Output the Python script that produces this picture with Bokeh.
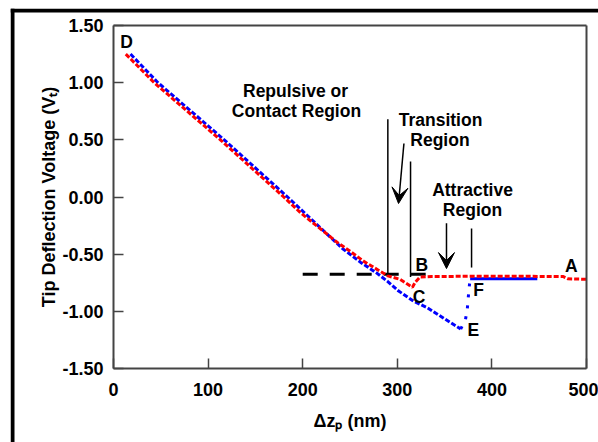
from bokeh.plotting import figure
from bokeh.models import (Range1d, FixedTicker, Arrow, VeeHead, NumeralTickFormatter,
                          LinearAxis, Span)
from bokeh.core.properties import value
from bokeh.embed import file_html
from bokeh.resources import INLINE

# ---- data ----
# approach curve (red): D -> C -> B -> A
approach_x = [13, 43, 113, 180, 198, 237, 251, 265, 280, 290, 303, 316, 319, 324, 336, 400, 475, 480, 500]
approach_y = [1.25, 1.00, 0.50, 0.0, -0.14, -0.40, -0.48, -0.565, -0.64, -0.69, -0.72, -0.79, -0.745,
              -0.70, -0.695, -0.693, -0.695, -0.715, -0.72]

# retract curve (blue): D -> E, snap-off E -> F, free F -> ...
retract_x = [18, 47, 117, 184, 242, 261, 279, 290, 301, 317, 332, 349, 367]
retract_y = [1.25, 1.00, 0.50, 0.0, -0.45, -0.57, -0.67, -0.74, -0.82, -0.91, -0.97, -1.06, -1.155]
snap_x = [367, 372, 374, 375, 376, 377]
snap_y = [-1.155, -1.075, -0.98, -0.88, -0.79, -0.715]
free_x = [377, 448]
free_y = [-0.715, -0.715]

# extrapolated free-cantilever level (dashed)
baseline_x = [200, 330]
baseline_y = [-0.675, -0.675]

x_ticks = [0, 100, 200, 300, 400, 500]
x_tick_labels = ["0", "100", "200", "300", "400", "500"]
y_ticks = [-1.5, -1.0, -0.5, 0.0, 0.5, 1.0, 1.5]
y_tick_labels = ["-1.50", "-1.00", "-0.50", "0.00", "0.50", "1.00", "1.50"]

point_labels = ["D", "B", "A", "C", "F", "E"]
region_labels = ["Repulsive or", "Contact Region", "Transition", "Region", "Attractive", "Region"]

x_title = "\u0394z\u209a (nm)"
y_title = "Tip Deflection Voltage (V\u209c)"

# ---- annotation placement ----
point_label_x = [13.7, 326, 484, 323, 386, 380.5]
point_label_y = [1.36, -0.591, -0.60, -0.871, -0.814, -1.16]
region_x = [192.4, 193.4, 345.7, 345.1, 379.5, 379.5]
region_y = [0.923, 0.748, 0.673, 0.498, 0.061, -0.11]
vline_x = [290, 314, 378.5]
vline_top = [0.68, 0.31, -0.276]
vline_bot = [-0.68, -0.70, -0.617]

# ---- geometry: the frame covers the whole page right of / below the black frame lines ----
W, H = 598, 442
FRAME_L, FRAME_T = 10, 8            # outer black frame lines (page px)
BOX_L, BOX_R, BOX_T, BOX_B = 113, 586, 25, 368   # inner plot box (page px)
XMIN, XMAX, YMIN, YMAX = 0, 500, -1.5, 1.5
sx = (BOX_R - BOX_L) / (XMAX - XMIN)
sy = (BOX_B - BOX_T) / (YMAX - YMIN)
x_start = XMIN - (BOX_L - FRAME_L) / sx
x_end = XMAX + (W - BOX_R) / sx
y_end = YMAX + (BOX_T - FRAME_T) / sy
y_start = YMIN - (H - BOX_B) / sy

FONT = value("Liberation Sans")
GRAY = "#444444"

p = figure(width=W, height=H, output_backend="svg", toolbar_location=None,
           x_range=Range1d(x_start, x_end), y_range=Range1d(y_start, y_end),
           min_border_left=FRAME_L, min_border_right=0, min_border_top=FRAME_T, min_border_bottom=0,
           x_axis_location=None, y_axis_location=None)
p.background_fill_color = "white"
p.border_fill_color = "white"
p.grid.visible = False
p.outline_line_color = None

xaxis = LinearAxis(fixed_location=YMIN, bounds=(XMIN, XMAX), ticker=FixedTicker(ticks=x_ticks),
                   formatter=NumeralTickFormatter(format="0"),
                   major_label_overrides={t: l for t, l in zip(x_ticks, x_tick_labels)},
                   axis_label=x_title)
yaxis = LinearAxis(fixed_location=XMIN, bounds=(YMIN, YMAX), ticker=FixedTicker(ticks=y_ticks),
                   formatter=NumeralTickFormatter(format="0.00"),
                   major_label_overrides={t: l for t, l in zip(y_ticks, y_tick_labels)},
                   axis_label=y_title)
for ax in (xaxis, yaxis):
    ax.major_tick_in = 10
    ax.major_tick_out = 0
    ax.minor_tick_line_color = None
    ax.major_tick_line_color = GRAY
    ax.major_tick_line_width = 1.5
    ax.axis_line_color = GRAY
    ax.axis_line_width = 2
    ax.major_label_text_font = "Liberation Sans"
    ax.major_label_text_font_style = "bold"
    ax.major_label_text_font_size = "18px"
    ax.major_label_text_color = "black"
    ax.axis_label_text_font = "Liberation Sans"
    ax.axis_label_text_font_style = "bold"
    ax.axis_label_text_font_size = "18px"
    ax.axis_label_text_color = "black"
xaxis.major_label_standoff = 14
yaxis.major_label_standoff = 10
xaxis.axis_label_standoff = 12
yaxis.axis_label_standoff = 0
p.add_layout(xaxis, "below")
p.add_layout(yaxis, "left")

# top and right edges of the plot box
for loc, bnds, side in ((YMAX, (XMIN, XMAX), "above"), (XMAX, (YMIN, YMAX), "right")):
    p.add_layout(LinearAxis(fixed_location=loc, bounds=bnds, ticker=FixedTicker(ticks=[]),
                            major_label_text_font_size="0px", major_tick_line_color=None,
                            minor_tick_line_color=None, axis_line_color=GRAY, axis_line_width=2), side)

# outer black frame lines (left and top), each 4 px wide
p.add_layout(Span(location=x_start + 2 / sx, dimension="height", line_color="black", line_width=4))
p.add_layout(Span(location=y_end - 2 / sy, dimension="width", line_color="black", line_width=4))

# dashed extrapolation line
p.line(baseline_x, baseline_y, line_color="black", line_width=3, line_dash="15 12")

# data curves
p.line(retract_x, retract_y, line_color="blue", line_width=3, line_dash="5 2")
p.line(snap_x, snap_y, line_color="blue", line_width=3, line_dash="3 8")
p.line(free_x, free_y, line_color="blue", line_width=3)
p.line(approach_x, approach_y, line_color="red", line_width=3, line_dash="5 2")

# region marker lines
p.segment(x0=vline_x, y0=vline_top, x1=vline_x, y1=vline_bot, line_color="black", line_width=1.5)
p.add_layout(Arrow(x_start=307, y_start=0.468, x_end=301.3, y_end=-0.057, line_width=1.5,
                   line_color="black", end=VeeHead(size=16, fill_color="black", line_color="black")))
p.add_layout(Arrow(x_start=352, y_start=-0.23, x_end=352, y_end=-0.626, line_width=1.5,
                   line_color="black", end=VeeHead(size=16, fill_color="black", line_color="black")))

# texts
p.text(x=region_x, y=region_y, text=region_labels, text_font=FONT, text_font_style="bold",
       text_font_size="17.5px", text_align="center", text_baseline="middle", text_color="black")
p.text(x=point_label_x, y=point_label_y, text=point_labels, text_font=FONT, text_font_style="bold",
       text_font_size="17.5px", text_align="center", text_baseline="middle", text_color="black")

open("out.html", "w").write(file_html(p, INLINE))
